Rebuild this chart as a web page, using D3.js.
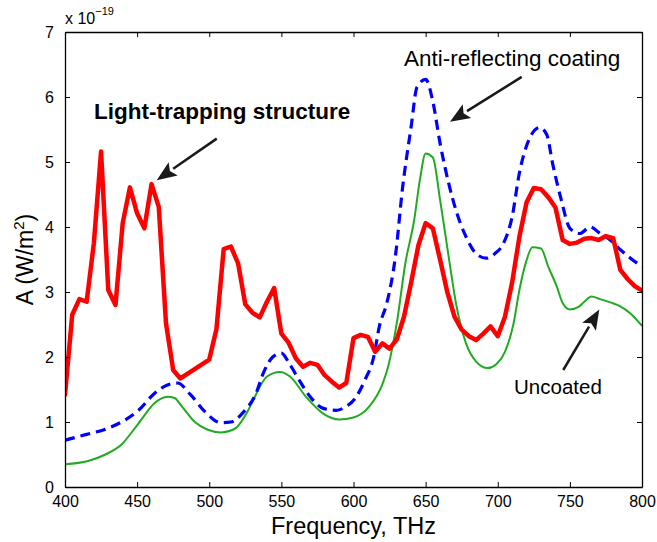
<!DOCTYPE html>
<html>
<head>
<meta charset="utf-8">
<script src="https://cdn.jsdelivr.net/npm/d3@7"></script>
<style>
  body { margin: 0; background: #fff; }
  text { font-family: "Liberation Sans", Arial, Helvetica, sans-serif; }
</style>
</head>
<body>
<div id="chart"></div>
<script>

// Light-trapping structure (red)
var trapFreq = [400,405,410,415,420,425,430,435,440,445,450,455,460,465,470,475,480,500,505,510,515,520,525,530,535,540,545,550,555,560,565,570,575,580,585,590,595,600,605,610,615,620,625,630,635,640,645,650,655,660,665,670,675,680,685,690,695,700,705,710,715,720,725,730,735,740,745,750,755,760,765,770,775,780,785,790,795,800];
var trapVal  = [1.42,2.65,2.89,2.85,3.75,5.16,3.03,2.80,4.06,4.61,4.21,3.98,4.66,4.31,2.52,1.80,1.67,1.96,2.43,3.66,3.70,3.44,2.81,2.68,2.61,2.85,3.06,2.36,2.22,1.98,1.85,1.91,1.88,1.72,1.62,1.53,1.60,2.29,2.34,2.31,2.08,2.21,2.13,2.27,2.62,3.15,3.72,4.06,3.98,3.50,3.00,2.62,2.42,2.32,2.26,2.36,2.47,2.32,2.62,3.15,3.85,4.38,4.60,4.58,4.46,4.30,3.80,3.74,3.76,3.82,3.83,3.80,3.86,3.83,3.34,3.20,3.09,3.02];

// Anti-reflecting coating (blue dashed)
var coatFreq = [400,415,428,440,451,462,471,478,487,497,508,515,524,532,538,544,550,556,563,571,579,588,595,601,608,614,618,623,629,634,640,644,650,655,660,666,671,678,685,692,698,704,710,715,721,729,734,738,744,750,757,764,771,778,785,792,800];
var coatVal  = [0.72,0.81,0.89,1.01,1.18,1.44,1.57,1.60,1.42,1.16,0.99,1.00,1.16,1.42,1.78,2.00,2.06,1.88,1.62,1.36,1.21,1.18,1.24,1.36,1.65,2.00,2.48,2.82,3.54,4.60,5.55,6.15,6.27,5.93,5.29,4.67,4.26,3.85,3.59,3.52,3.59,3.75,4.16,4.83,5.31,5.53,5.42,4.98,4.42,3.98,3.90,4.00,3.90,3.80,3.65,3.52,3.39];

// Uncoated (green)
var bareFreq = [400,416,428,439,451,462,471,476,481,490,499,508,518,527,531,540,549,556,567,579,590,600,611,620,624,630,636,642,646,650,655,660,666,671,678,685,693,699,705,711,715,720,724,730,735,741,745,750,756,760,765,771,778,785,792,800];
var bareVal  = [0.35,0.40,0.50,0.65,0.98,1.29,1.39,1.37,1.24,1.00,0.88,0.84,0.90,1.18,1.36,1.70,1.77,1.70,1.39,1.13,1.04,1.07,1.24,1.58,1.85,2.52,3.45,4.10,4.72,5.13,5.07,4.42,3.54,2.83,2.21,1.93,1.83,1.89,2.08,2.52,3.03,3.49,3.69,3.67,3.39,3.08,2.83,2.73,2.77,2.85,2.93,2.89,2.84,2.78,2.67,2.48];

var xTicks = [400,450,500,550,600,650,700,750,800];
var yTicks = [0,1,2,3,4,5,6,7];

var width = 657;
var height = 542;
var margin = {top: 32, right: 15, bottom: 55, left: 65};

var svg = d3.select("#chart").append("svg")
    .attr("width", width)
    .attr("height", height);

svg.append("rect").attr("width", width).attr("height", height).attr("fill", "#fff");

var x = d3.scaleLinear().domain([400, 800]).range([margin.left, width - margin.right]);
var y = d3.scaleLinear().domain([0, 7]).range([height - margin.bottom, margin.top]);

var plot = svg.append("g");

// clip to the box
svg.append("clipPath").attr("id", "clip")
  .append("rect")
    .attr("x", x(400)).attr("y", y(7))
    .attr("width", x(800) - x(400)).attr("height", y(0) - y(7));

function pts(fs, vs) { return fs.map(function(f, i) { return [f, vs[i]]; }); }

var line = d3.line().x(function(d) { return x(d[0]); }).y(function(d) { return y(d[1]); });
var smooth = d3.line().curve(d3.curveMonotoneX).x(function(d) { return x(d[0]); }).y(function(d) { return y(d[1]); });

var lines = plot.append("g").attr("clip-path", "url(#clip)");

lines.append("path")
    .datum(pts(bareFreq, bareVal))
    .attr("d", smooth)
    .attr("fill", "none")
    .attr("stroke", "#22aa22")
    .attr("stroke-width", 2);

lines.append("path")
    .datum(pts(coatFreq, coatVal))
    .attr("d", smooth)
    .attr("fill", "none")
    .attr("stroke", "#0000ff")
    .attr("stroke-width", 3.2)
    .attr("stroke-dasharray", "10,6");

lines.append("path")
    .datum(pts(trapFreq, trapVal))
    .attr("d", line)
    .attr("fill", "none")
    .attr("stroke", "#ff0000")
    .attr("stroke-width", 4.5)
    .attr("stroke-linejoin", "round")
    .attr("stroke-linecap", "round");

// axes, ticks pointing inward on all four sides
var fs = "16px";
var gB = svg.append("g").attr("transform", "translate(0," + y(0) + ")")
    .call(d3.axisBottom(x).tickValues(xTicks).tickSize(-5).tickPadding(9).tickSizeOuter(0));
var gT = svg.append("g").attr("transform", "translate(0," + y(7) + ")")
    .call(d3.axisTop(x).tickValues(xTicks).tickSize(-5).tickFormat("").tickSizeOuter(0));
var gL = svg.append("g").attr("transform", "translate(" + x(400) + ",0)")
    .call(d3.axisLeft(y).tickValues(yTicks).tickFormat(d3.format("d")).tickSize(-5).tickPadding(11).tickSizeOuter(0));
var gR = svg.append("g").attr("transform", "translate(" + x(800) + ",0)")
    .call(d3.axisRight(y).tickValues(yTicks).tickSize(-5).tickFormat("").tickSizeOuter(0));

[gB, gT, gL, gR].forEach(function(g) {
  g.select(".domain").attr("stroke", "#000").attr("stroke-width", 1.3);
  g.selectAll(".tick line").attr("stroke", "#000").attr("stroke-width", 1);
  g.selectAll("text").attr("font-size", fs).attr("fill", "#000")
    .style("font-family", "'Liberation Sans', Arial, sans-serif");
});

// exponent label
var ex = svg.append("text").attr("x", x(400)).attr("y", 24).attr("font-size", "16px");
ex.append("tspan").text("x 10");
ex.append("tspan").attr("font-size", "11px").attr("dy", -9).text("\u221219");

// axis titles
svg.append("text")
    .attr("x", (x(400) + x(800)) / 2).attr("y", 534)
    .attr("text-anchor", "middle").attr("font-size", "23.5px")
    .text("Frequency, THz");

var yt = svg.append("text")
    .attr("transform", "translate(33," + ((y(0) + y(7)) / 2) + ") rotate(-90)")
    .attr("text-anchor", "middle").attr("font-size", "23px");
yt.append("tspan").text("A (W/m");
yt.append("tspan").attr("font-size", "15px").attr("dy", -9).text("2");
yt.append("tspan").attr("dy", 9).text(")");

// annotations
var notes = [
  {text: "Light-trapping structure", tx: 420.1, ty: 5.66, size: 22.5, bold: true,  from: [505.2, 5.36], to: [463.6, 4.72]},
  {text: "Anti-reflecting coating",  tx: 635.0, ty: 6.48, size: 22.5, bold: false, from: [716.6, 6.31], to: [666.9, 5.62]},
  {text: "Uncoated",                 tx: 711.3, ty: 1.43, size: 20.5, bold: false, from: [745.4, 1.80], to: [770.4, 2.73]}
];

notes.forEach(function(n) {
  svg.append("text")
      .attr("x", x(n.tx)).attr("y", y(n.ty))
      .attr("font-size", n.size + "px")
      .attr("font-weight", n.bold ? "bold" : "normal")
      .text(n.text);

  var x1 = x(n.from[0]), y1 = y(n.from[1]), x2 = x(n.to[0]), y2 = y(n.to[1]);
  var a = Math.atan2(y2 - y1, x2 - x1);
  var len = 20, half = 8;
  var bx = x2 - len * Math.cos(a), by = y2 - len * Math.sin(a);
  svg.append("line")
      .attr("x1", x1).attr("y1", y1).attr("x2", bx).attr("y2", by)
      .attr("stroke", "#1a1a1a").attr("stroke-width", 2.5);
  svg.append("path")
      .attr("d", "M" + x2 + "," + y2 +
                 "L" + (bx + half * Math.sin(a)) + "," + (by - half * Math.cos(a)) +
                 "L" + (bx + 4 * Math.cos(a)) + "," + (by + 4 * Math.sin(a)) +
                 "L" + (bx - half * Math.sin(a)) + "," + (by + half * Math.cos(a)) + "Z")
      .attr("fill", "#1a1a1a");
});

</script>
</body>
</html>
